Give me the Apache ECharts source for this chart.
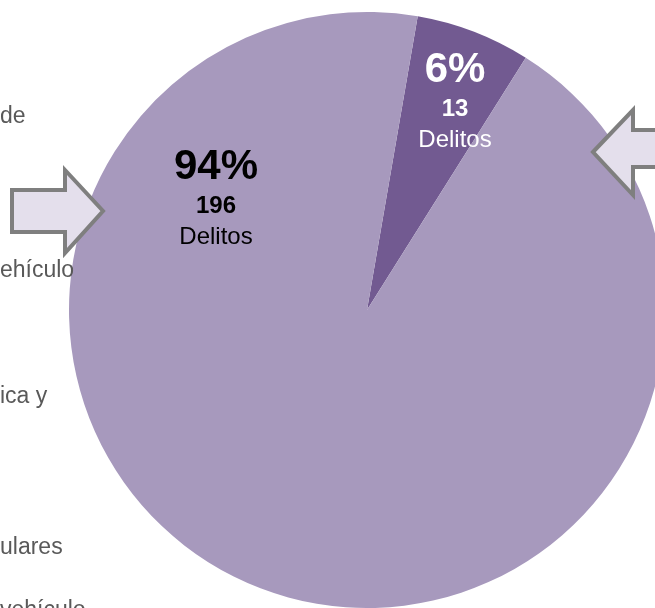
<!DOCTYPE html>
<html>
<head>
<meta charset="utf-8">
<script src="https://cdn.jsdelivr.net/npm/echarts@6/dist/echarts.min.js"></script>
<style>
  html, body { margin: 0; padding: 0; background: #fff; }
  #chart { width: 655px; height: 608px; }
</style>
</head>
<body>
<div id="chart"></div>
<script>
// datos del pastel
const categorias = ['Grupo A', 'Grupo B']
const delitos = [13, 196]
const colores = ['#725A91', '#A799BD']
const coloresTexto = ['#ffffff', '#000000']
// textos recortados de la lista de la izquierda
const textosIzq = ['de', 'ehículo', 'ica y', 'ulares', 'vehículo']
const textosIzqY = [117, 271, 397, 548, 611]

// posicion de las etiquetas (centro de cada bloque)
const posEtiquetas = [[455, 101], [216, 198]]

let myChart = echarts.init(document.getElementById('chart'))

let serieDatos = []
for (let i = 0; i < delitos.length; i++) {
    serieDatos.push({
        name: categorias[i],
        value: delitos[i],
        itemStyle: { color: colores[i] },
        label: { color: coloresTexto[i] }
    })
}

// flechas
const flechaIzq = [[12, 190], [65, 190], [65, 170], [103, 211], [65, 253], [65, 232], [12, 232]]
const flechaDer = [[593, 152], [633, 110], [633, 130], [662, 130], [662, 167], [633, 167], [633, 195]]

let graficos = []
for (let i = 0; i < textosIzq.length; i++) {
    graficos.push({
        type: 'text',
        z: 10,
        x: 0,
        y: textosIzqY[i],
        style: {
            text: textosIzq[i],
            fill: '#595959',
            font: '23px "Liberation Sans", Arial, sans-serif',
            textVerticalAlign: 'middle'
        }
    })
}
graficos.push({
    type: 'polygon', z: 11,
    shape: { points: flechaIzq },
    style: { fill: '#E4DFEC', stroke: '#7F7F7F', lineWidth: 4, lineJoin: 'miter' }
})
graficos.push({
    type: 'polygon', z: 11,
    shape: { points: flechaDer },
    style: { fill: '#E4DFEC', stroke: '#7F7F7F', lineWidth: 4, lineJoin: 'miter' }
})

let option = {
    backgroundColor: '#ffffff',
    animation: false,
    graphic: graficos,
    series: [
        {
            type: 'pie',
            center: [367, 310],
            radius: 298,
            startAngle: 80.2,
            clockwise: true,
            percentPrecision: 0,
            avoidLabelOverlap: false,
            labelLine: { show: false },
            label: {
                show: true,
                position: 'inside',
                fontFamily: '"Liberation Sans", Arial, sans-serif',
                formatter: '{p|{d}%}\n{n|{c}}\n{t|Delitos}',
                rich: {
                    p: { fontSize: 42, fontWeight: 'bold', lineHeight: 48, align: 'center' },
                    n: { fontSize: 24, fontWeight: 'bold', lineHeight: 30, align: 'center' },
                    t: { fontSize: 24, lineHeight: 32, align: 'center' }
                }
            },
            labelLayout: function (params) {
                let p = posEtiquetas[params.dataIndex]
                return { x: p[0], y: p[1], align: 'center', verticalAlign: 'middle' }
            },
            data: serieDatos
        }
    ]
}
myChart.setOption(option)
</script>
</body>
</html>
